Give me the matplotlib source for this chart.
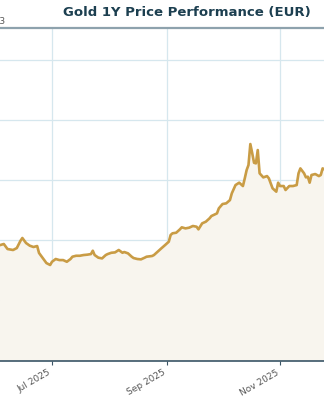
import matplotlib
matplotlib.use("Agg")
import matplotlib.pyplot as plt
import matplotlib.dates as mdates
import numpy as np
import pandas as pd
from matplotlib.ticker import MultipleLocator

# gold price in EUR
dates = ["2025-06-03", "2025-06-05", "2025-06-07", "2025-06-10", "2025-06-12", "2025-06-14",
         "2025-06-15", "2025-06-17", "2025-06-19", "2025-06-21", "2025-06-23", "2025-06-24",
         "2025-06-26", "2025-06-28", "2025-06-30", "2025-07-01", "2025-07-03", "2025-07-05",
         "2025-07-07", "2025-07-09", "2025-07-11", "2025-07-12", "2025-07-14", "2025-07-16",
         "2025-07-18", "2025-07-20", "2025-07-22", "2025-07-23", "2025-07-24", "2025-07-26",
         "2025-07-28", "2025-07-30", "2025-07-31", "2025-08-02", "2025-08-04", "2025-08-06",
         "2025-08-08", "2025-08-09", "2025-08-11", "2025-08-13", "2025-08-14", "2025-08-16",
         "2025-08-18", "2025-08-20", "2025-08-21", "2025-08-24", "2025-08-25", "2025-08-27",
         "2025-08-29", "2025-08-31", "2025-09-02", "2025-09-03", "2025-09-04", "2025-09-06",
         "2025-09-08", "2025-09-09", "2025-09-11", "2025-09-13", "2025-09-15", "2025-09-17",
         "2025-09-18", "2025-09-20", "2025-09-22", "2025-09-24", "2025-09-25", "2025-09-28",
         "2025-09-29", "2025-10-01", "2025-10-03", "2025-10-05", "2025-10-06", "2025-10-08",
         "2025-10-10", "2025-10-12", "2025-10-13", "2025-10-14", "2025-10-15", "2025-10-16",
         "2025-10-17", "2025-10-18", "2025-10-19", "2025-10-20", "2025-10-21", "2025-10-23",
         "2025-10-25", "2025-10-26", "2025-10-28", "2025-10-30", "2025-10-31", "2025-11-01",
         "2025-11-03", "2025-11-04", "2025-11-06", "2025-11-08", "2025-11-10", "2025-11-11",
         "2025-11-12", "2025-11-14", "2025-11-15", "2025-11-16", "2025-11-17", "2025-11-18",
         "2025-11-20", "2025-11-22", "2025-11-23", "2025-11-24", "2025-11-26"]
prices = [2958, 2967, 2925, 2917, 2933, 2994,
          3017, 2975, 2953, 2942, 2950, 2892,
          2850, 2808, 2792, 2819, 2842, 2833,
          2833, 2819, 2842, 2861, 2869, 2869,
          2875, 2878, 2883, 2911, 2875, 2853,
          2847, 2875, 2883, 2894, 2897, 2917,
          2894, 2900, 2889, 2861, 2850, 2842,
          2839, 2853, 2861, 2867, 2875, 2903,
          2931, 2958, 2986, 3042, 3056, 3061,
          3089, 3106, 3097, 3103, 3117, 3111,
          3089, 3139, 3153, 3181, 3200, 3222,
          3264, 3300, 3306, 3333, 3389, 3458,
          3478, 3450, 3514, 3583, 3625, 3800,
          3725, 3644, 3639, 3750, 3556, 3522,
          3533, 3514, 3431, 3403, 3478, 3450,
          3450, 3417, 3450, 3450, 3458, 3556,
          3597, 3556, 3522, 3528, 3478, 3542,
          3550, 3533, 3542, 3597, 3580]

x = pd.to_datetime(dates)
y = np.array(prices)

fig = plt.figure(figsize=(3.24, 4.0), dpi=100)
# axes runs past both figure edges, like the cropped reference
ax = fig.add_axes([-0.034, 0.0975, 1.0698, 0.8325])

ax.fill_between(x, y, 1990, color="#f8f5ee", zorder=1)
ax.plot(x, y, color="#c99c45", lw=1.9, zorder=3)

ax.set_xlim(pd.Timestamp("2025-05-28"), pd.Timestamp("2025-12-01"))
ax.set_ylim(1992, 4767)

ax.xaxis.set_major_locator(mdates.MonthLocator(bymonth=[1, 3, 5, 7, 9, 11]))
ax.xaxis.set_major_formatter(mdates.DateFormatter("%b %Y"))
ax.yaxis.set_major_locator(MultipleLocator(500))
ax.ticklabel_format(axis="y", style="sci", scilimits=(0, 0))
ax.yaxis.get_offset_text().set_fontsize(6.5)
ax.yaxis.get_offset_text().set_color("#555555")

ax.grid(True, color="#d6e7ee", lw=0.9, zorder=0)
ax.set_axisbelow(True)

for lab in ax.get_xticklabels():
    lab.set_rotation(30)
    lab.set_ha("right")
    lab.set_fontsize(6.5)
    lab.set_color("#555555")
ax.tick_params(axis="x", length=3, width=0.8, color="#3a5566", pad=2)
ax.tick_params(axis="y", length=0)

ax.spines["left"].set_visible(False)
ax.spines["right"].set_visible(False)
ax.spines["top"].set_color("#8ea2ad")
ax.spines["top"].set_linewidth(1.6)
ax.spines["bottom"].set_color("#3a5566")
ax.spines["bottom"].set_linewidth(1.2)

fig.text(0.578, 0.968, "Gold 1Y Price Performance (EUR)", ha="center", va="center",
         fontsize=9.5, fontweight="bold", color="#1c3f50")

fig.savefig("out.png", dpi=100)
